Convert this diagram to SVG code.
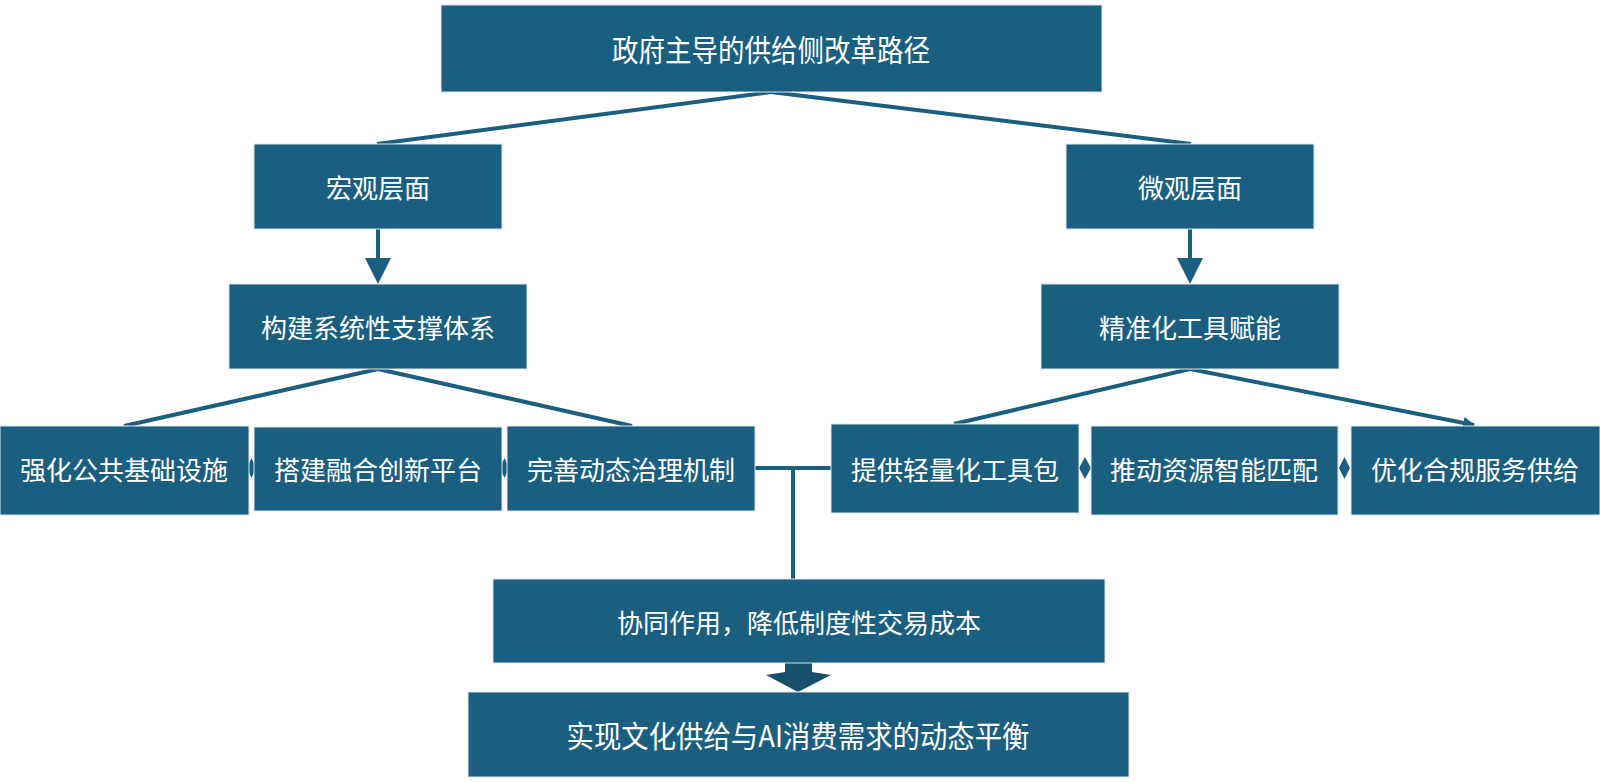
<svg xmlns="http://www.w3.org/2000/svg" width="1600" height="782" viewBox="0 0 1600 782">
<style>
.box{fill:#1a5f80;stroke:#dbe7ee;stroke-width:1}
.t{fill:#ffffff;font-family:"Noto Sans CJK SC","Noto Sans",sans-serif;font-size:26px;text-anchor:middle;dominant-baseline:central}
.tc{font-size:30px}
.ln{stroke:#1a5f80;stroke-width:4;fill:none}
.tie{fill:#1a5f80}
</style>
<defs>
<marker id="ah" viewBox="0 0 10 10" refX="9" refY="5" markerWidth="3" markerHeight="3" orient="auto" markerUnits="strokeWidth">
<path d="M0,0 L10,5 L0,10 z" fill="#1a5f80"/>
</marker>
</defs>
<rect width="1600" height="782" fill="#ffffff"/>
<g id="connectors">
<line class="ln" x1="771" y1="92" x2="377" y2="144"/>
<line class="ln" x1="771" y1="92" x2="1191" y2="144"/>
<line class="ln" x1="378" y1="229" x2="378" y2="262"/>
<polygon class="tie" points="365,258 391,258 378,284"/>
<line class="ln" x1="1190" y1="229" x2="1190" y2="262"/>
<polygon class="tie" points="1177,258 1203,258 1190,284"/>
<line class="ln" x1="378" y1="369" x2="124" y2="426"/>
<line class="ln" x1="378" y1="369" x2="632" y2="426"/>
<line class="ln" x1="1190" y1="369" x2="954" y2="424"/>
<line class="ln" x1="1190" y1="369" x2="1474" y2="425" marker-end="url(#ah)"/>
<line class="ln" x1="755" y1="468" x2="831" y2="468"/>
<line class="ln" x1="793" y1="468" x2="793" y2="580"/>
<polygon class="tie" points="251.5,458 256,468 251.5,478 247,468"/>
<polygon class="tie" points="504.5,458 509,468 504.5,478 500,468"/>
<polygon class="tie" points="1085,457 1091,468 1085,479 1079,468"/>
<polygon class="tie" points="1344.5,457 1350,468 1344.5,479 1339,468"/>
<path d="M785,662 H812 V672 L831,675 L798,692 L766,675 L785,672 Z" fill="#174f6a"/>
</g>
<g id="n-top"><rect class="box" x="441" y="5" width="661" height="87"/><text class="t tc" x="771" y="48" textLength="318" lengthAdjust="spacingAndGlyphs">政府主导的供给侧改革路径</text></g>
<g id="n-macro"><rect class="box" x="254" y="144" width="248" height="85"/><text class="t" x="378" y="186" font-size="28">宏观层面</text></g>
<g id="n-micro"><rect class="box" x="1066" y="144" width="248" height="85"/><text class="t" x="1190" y="186" font-size="28">微观层面</text></g>
<g id="n-build"><rect class="box" x="229" y="284" width="298" height="85"/><text class="t" x="378" y="326">构建系统性支撑体系</text></g>
<g id="n-tools"><rect class="box" x="1041" y="284" width="298" height="85"/><text class="t" x="1190" y="326">精准化工具赋能</text></g>
<g id="n-a1"><rect class="box" x="0" y="426" width="249" height="89"/><text class="t" x="124" y="468">强化公共基础设施</text></g>
<g id="n-a2"><rect class="box" x="254" y="427" width="248" height="84"/><text class="t" x="378" y="468">搭建融合创新平台</text></g>
<g id="n-a3"><rect class="box" x="507" y="426" width="248" height="85"/><text class="t" x="631" y="468">完善动态治理机制</text></g>
<g id="n-b1"><rect class="box" x="831" y="424" width="248" height="89"/><text class="t" x="955" y="468">提供轻量化工具包</text></g>
<g id="n-b2"><rect class="box" x="1091" y="426" width="247" height="89"/><text class="t" x="1214" y="468">推动资源智能匹配</text></g>
<g id="n-b3"><rect class="box" x="1351" y="426" width="249" height="89"/><text class="t" x="1475" y="468">优化合规服务供给</text></g>
<g id="n-synergy"><rect class="box" x="493" y="579" width="612" height="84"/><text class="t" x="799" y="621">协同作用，降低制度性交易成本</text></g>
<g id="n-balance"><rect class="box" x="468" y="692" width="661" height="85"/><text class="t tc" x="798" y="734" textLength="463" lengthAdjust="spacingAndGlyphs">实现文化供给与AI消费需求的动态平衡</text></g>
</svg>
